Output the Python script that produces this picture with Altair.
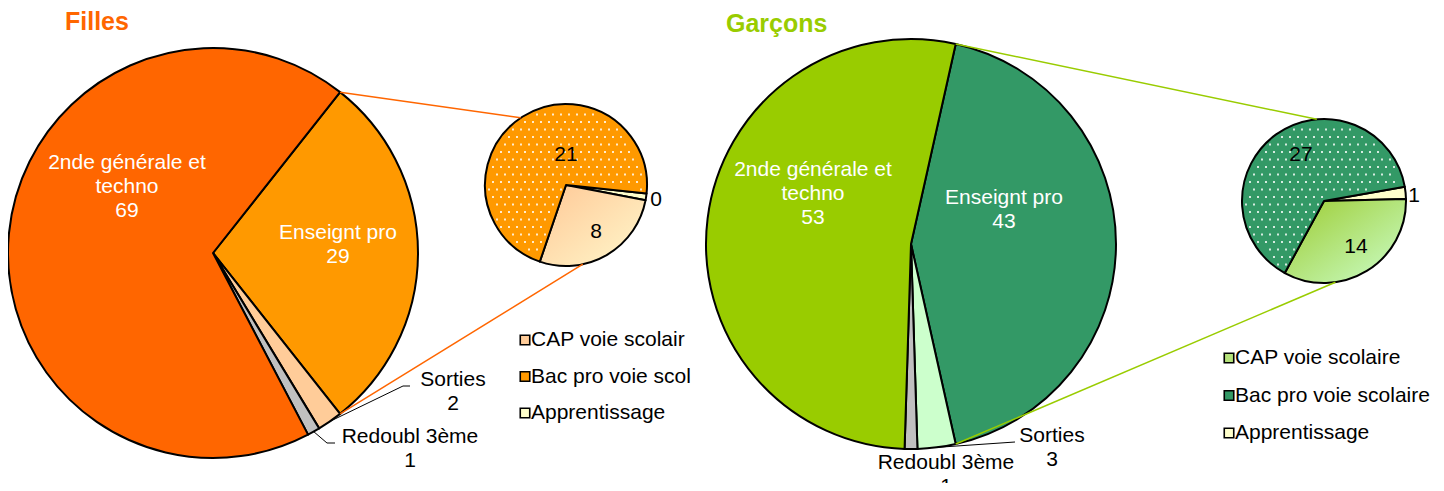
import math
import numpy as np
import pandas as pd
import altair as alt

# ---------------- data ----------------
titles = ["Filles", "Garçons"]
big_categories = ["Enseignt pro", "Sorties", "Redoubl 3ème", "2nde générale et techno"]
big_label_text = ["Enseignt pro", "Sorties", "Redoubl 3ème", "2nde générale et\ntechno"]
filles_big_values = [29, 2, 1, 69]
garcons_big_values = [43, 3, 1, 53]

small_categories = ["Apprentissage", "CAP voie scolaire", "Bac pro voie scolaire"]
filles_small_values = [0.4, 8, 21]   # shown as "0"
garcons_small_values = [1, 14, 27]

legend_labels = ["CAP voie scolaire", "Bac pro voie scolaire", "Apprentissage"]

# ---------------- styles / layout ----------------
FONT = "Liberation Sans"
FS = 21
W, H, M = 1428, 475, 8
XS = alt.Scale(domain=[M, M + W], nice=False, zero=False)
YS = alt.Scale(domain=[M, M + H], reverse=True, nice=False, zero=False)

F_BIG_COL = ["#FF9900", "#FFCC99", "#C0C0C0", "#FF6600"]
G_BIG_COL = ["#339966", "#CCFFCC", "#C0C0C0", "#99CC00"]
F_SMALL_COL = ["#FFFFCC", "#FFCC99", "#FF9900"]
G_SMALL_COL = ["#FFFFCC", "#B5E27A", "#339966"]
F_GRAD = alt.LinearGradient(gradient="linear", x1=0, y1=0, x2=1, y2=1,
                            stops=[alt.GradientStop(color="#FFC896", offset=0),
                                   alt.GradientStop(color="#FFF8CC", offset=1)])
G_GRAD = alt.LinearGradient(gradient="linear", x1=0, y1=0, x2=1, y2=1,
                            stops=[alt.GradientStop(color="#9CCB30", offset=0),
                                   alt.GradientStop(color="#CCFFCC", offset=1)])

# label positions give the first text line (page pixels)
PANELS = [
    dict(key="F", title=titles[0], title_xy=(65, 22), title_col="#FF6600",
         big_vals=filles_big_values, big_col=F_BIG_COL, big_c=(213, 253), big_r=205,
         small_vals=filles_small_values, small_col=F_SMALL_COL, small_c=(566, 185), small_r=81,
         small_start=96.0, grad=F_GRAD, line_col="#FF6600", conn_small=(326, 168),
         big_lab={"2nde générale et techno": (127, 163, "white"), "Enseignt pro": (338, 233, "white"),
                  "Sorties": (453, 380, "black"), "Redoubl 3ème": (410, 437, "black")},
         leaders={"Sorties": [(403, 386), (410, 386)], "Redoubl 3ème": [(327, 443), (335, 443)]},
         small_lab=[(656, 200), (596, 232), (566, 155)],
         legend_xy=(525, 340), legend_dy=36.5, legend_limit=157),
    dict(key="G", title=titles[1], title_xy=(726, 24), title_col="#99CC00",
         big_vals=garcons_big_values, big_col=G_BIG_COL, big_c=(911, 244), big_r=205,
         small_vals=garcons_small_values, small_col=G_SMALL_COL, small_c=(1324, 201), small_r=82,
         small_start=80.0, grad=G_GRAD, line_col="#99CC00", conn_small=(355, 172),
         big_lab={"2nde générale et techno": (813, 170, "white"), "Enseignt pro": (1004, 198, "white"),
                  "Sorties": (1052, 436, "black"), "Redoubl 3ème": (946, 463, "black")},
         leaders={"Sorties": [(1015, 442), (1015, 442)]},
         small_lab=[(1414, 196), (1356, 247), (1301, 155)],
         legend_xy=(1229, 358), legend_dy=37.5, legend_limit=300),
]


def pt(c, r, deg):
    a = math.radians(deg)
    return (c[0] + r * math.sin(a), c[1] - r * math.cos(a))


def pie(df, c, r, start_deg, grad=None):
    a0 = math.radians(start_deg)
    total = float(df["v"].sum())
    color = alt.Color("col:N", scale=None)
    if grad is not None:
        color = alt.condition("datum.cat == 'CAP voie scolaire'", alt.value(grad), color)
    return alt.Chart(df).mark_arc(radius=r, stroke="black", strokeWidth=2, strokeJoin="round").encode(
        theta=alt.Theta("v:Q", stack=True,
                        scale=alt.Scale(domain=[0, total], range=[a0, a0 + 2 * math.pi], nice=False)),
        order=alt.Order("o:Q"),
        color=color,
        x=alt.value(c[0] - M), y=alt.value(c[1] - M),
    )


layers = []
for P in PANELS:
    bv = P["big_vals"]
    btot = sum(bv)
    big_start = 90 - bv[0] / btot * 180  # split slice centred on 3 o'clock
    big_df = pd.DataFrame({"cat": big_categories, "v": bv, "o": range(4), "col": P["big_col"]})
    layers.append(pie(big_df, P["big_c"], P["big_r"], big_start))

    sv = P["small_vals"]
    stot = sum(sv)
    small_df = pd.DataFrame({"cat": small_categories, "v": sv, "o": range(3), "col": P["small_col"]})
    layers.append(pie(small_df, P["small_c"], P["small_r"], P["small_start"], P["grad"]))

    # dotted texture on the "Bac pro" slice
    a_s = P["small_start"] + (sv[0] + sv[1]) / stot * 360
    span = sv[2] / stot * 360
    cx, cy = P["small_c"]
    r = P["small_r"]
    dx_list, dy_list = [], []
    for j, yy in enumerate(np.arange(cy - r + 3, cy + r, 7.5)):
        off = 4 if j % 2 else 0
        for xx in np.arange(cx - r + off, cx + r, 8):
            ddx, ddy = xx - cx, yy - cy
            d = math.hypot(ddx, ddy)
            if d > r - 3.5 or d < 4:
                continue
            ang = math.degrees(math.atan2(ddx, -ddy)) % 360
            rel = (ang - a_s) % 360
            if rel > span:
                continue
            m = min(rel, span - rel)
            if m < 90 and d * math.sin(math.radians(m)) < 3:
                continue
            dx_list.append(xx)
            dy_list.append(yy)
    dots = pd.DataFrame({"x": dx_list, "y": dy_list})
    layers.append(alt.Chart(dots).mark_square(size=4, color="white", opacity=0.8).encode(
        x=alt.X("x:Q", scale=XS, axis=None), y=alt.Y("y:Q", scale=YS, axis=None)))

    # connector lines between the two pies
    p1 = pt(P["big_c"], P["big_r"], big_start)
    p2 = pt(P["big_c"], P["big_r"], big_start + bv[0] / btot * 360)
    q1 = pt(P["small_c"], P["small_r"], P["conn_small"][0])
    q2 = pt(P["small_c"], P["small_r"], P["conn_small"][1])
    conn = pd.DataFrame({"x": [p1[0], p2[0]], "y": [p1[1], p2[1]],
                         "x2": [q1[0], q2[0]], "y2": [q1[1], q2[1]]})
    layers.append(alt.Chart(conn).mark_rule(color=P["line_col"], strokeWidth=1.5).encode(
        x=alt.X("x:Q", scale=XS, axis=None), y=alt.Y("y:Q", scale=YS, axis=None),
        x2="x2:Q", y2="y2:Q"))

    # leader lines for small slices
    segs = {"x": [], "y": [], "x2": [], "y2": []}
    cum = 0
    for cat, v in zip(big_categories, bv):
        mid = big_start + (cum + v / 2) / btot * 360
        cum += v
        if cat in P["leaders"]:
            (ex, ey), (fx, fy) = P["leaders"][cat]
            s = pt(P["big_c"], P["big_r"], mid)
            segs["x"] += [s[0], ex]
            segs["y"] += [s[1], ey]
            segs["x2"] += [ex, fx]
            segs["y2"] += [ey, fy]
    layers.append(alt.Chart(pd.DataFrame(segs)).mark_rule(color="black", strokeWidth=1).encode(
        x=alt.X("x:Q", scale=XS, axis=None), y=alt.Y("y:Q", scale=YS, axis=None),
        x2="x2:Q", y2="y2:Q"))

    # labels
    rows = []
    for cat, txt, v in zip(big_categories, big_label_text, bv):
        lx, ly, lc = P["big_lab"][cat]
        rows.append({"x": lx, "y": ly, "t": f"{txt}\n{v:.0f}", "c": lc})
    for (lx, ly), v in zip(P["small_lab"], sv):
        rows.append({"x": lx, "y": ly, "t": f"{v:.0f}", "c": "black"})
    layers.append(alt.Chart(pd.DataFrame(rows)).mark_text(
        font=FONT, fontSize=FS, lineBreak="\n", lineHeight=24, baseline="middle", align="center",
        clip=True).encode(
        x=alt.X("x:Q", scale=XS, axis=None), y=alt.Y("y:Q", scale=YS, axis=None),
        text="t:N", color=alt.Color("c:N", scale=None)))

    # legend
    lx0, ly0 = P["legend_xy"]
    col_map = dict(zip(small_categories, P["small_col"]))
    leg = pd.DataFrame({"x": [lx0] * 3, "y": [ly0 + i * P["legend_dy"] for i in range(3)],
                        "t": legend_labels, "col": [col_map[c] for c in legend_labels]})
    layers.append(alt.Chart(leg).mark_square(size=90, stroke="black", strokeWidth=1.6, opacity=1).encode(
        x=alt.X("x:Q", scale=XS, axis=None), y=alt.Y("y:Q", scale=YS, axis=None),
        fill=alt.Fill("col:N", scale=None)))
    layers.append(alt.Chart(leg).mark_text(
        font=FONT, fontSize=FS, align="left", baseline="middle", dx=6,
        limit=P["legend_limit"] + 6, ellipsis="\u200b").encode(
        x=alt.X("x:Q", scale=XS, axis=None), y=alt.Y("y:Q", scale=YS, axis=None),
        text="t:N"))

    # title
    tdf = pd.DataFrame({"x": [P["title_xy"][0]], "y": [P["title_xy"][1]], "t": [P["title"]]})
    layers.append(alt.Chart(tdf).mark_text(
        font=FONT, fontSize=25, fontWeight="bold", align="left", baseline="middle",
        color=P["title_col"]).encode(
        x=alt.X("x:Q", scale=XS, axis=None), y=alt.Y("y:Q", scale=YS, axis=None), text="t:N"))

chart = alt.layer(*layers).resolve_scale(theta="independent", color="independent", fill="independent").properties(
    width=W, height=H, padding=0, autosize=alt.AutoSizeParams(type="none"), background="white"
).configure_view(stroke=None)

chart.save("out.html", embed_options={"renderer": "svg", "actions": False})
